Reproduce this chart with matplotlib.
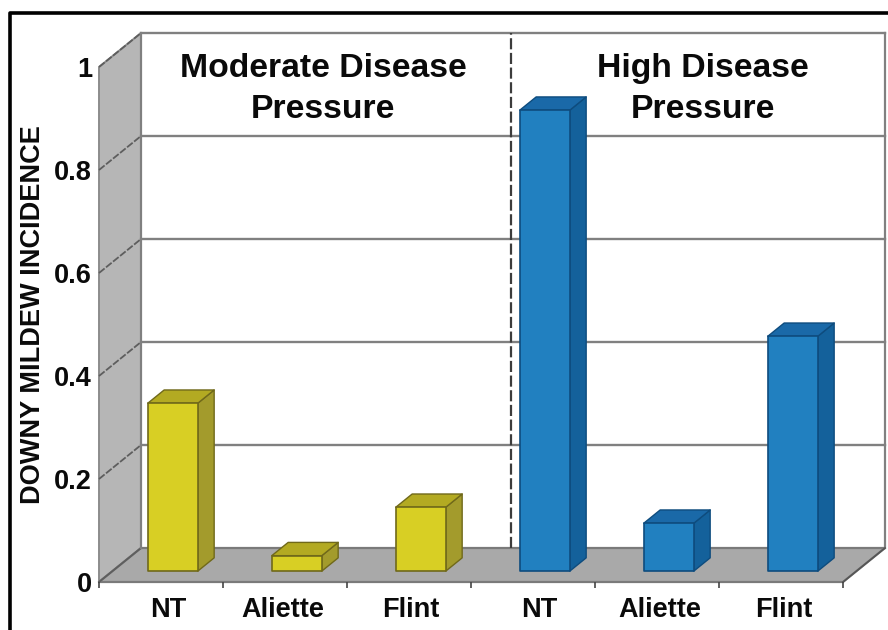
import matplotlib
matplotlib.use("Agg")
import matplotlib.pyplot as plt
from matplotlib.lines import Line2D

plt.rcParams['font.family'] = ['Liberation Sans', 'DejaVu Sans']
plt.rcParams['font.weight'] = 'bold'

categories = ["NT", "Aliette", "Flint", "NT", "Aliette", "Flint"]
values = [0.326, 0.03, 0.124, 0.895, 0.093, 0.456]
groups = ["Moderate Disease\nPressure", "High Disease\nPressure"]
y_ticks = [0, 0.2, 0.4, 0.6, 0.8, 1]
y_labels = ["0", "0.2", "0.4", "0.6", "0.8", "1"]
y_title = "DOWNY MILDEW INCIDENCE"

W, H = 888, 630
L, R, B, T = 99, 843, 582, 67
# oblique projection, in data units per unit of depth
DX = 42 / 124
DY = 34 / 515
BAR_D0, BAR_D1 = 0.32, 0.71
BAR_W = 50 / 124
BAR_OFF = 0.285
LABEL_POS = [0.557, 1.484, 2.516, 3.548, 4.524, 5.524]

YEL = dict(front="#d8cf24", side="#a39b2c", top="#b3aa22", edge="#70691a")
BLU = dict(front="#2180c0", side="#14619b", top="#1a69a8", edge="#0e4c7e")
INK = "#0a0a0a"

fig = plt.figure(figsize=(W / 100, H / 100), dpi=100, facecolor="white")
ax = fig.add_axes([L / W, (H - B) / H, (R - L) / W, (B - T) / H])
ax.patch.set_visible(False)
ax.set_xlim(0, len(categories))
ax.set_ylim(0, 1)
for s in ax.spines.values():
    s.set_visible(False)


def P(x, y, d):
    return (x + d * DX, y + d * DY)


def face(pts, fc, ec, lw=1.0, z=2):
    xs, ys = zip(*pts)
    ax.fill(xs, ys, facecolor=fc, edgecolor=ec, linewidth=lw, clip_on=False,
            zorder=z, joinstyle="round")


n = len(categories)
GRID = "#808080"
# walls and floor
face([P(0, 0, 0), P(0, 0, 1), P(0, 1, 1), P(0, 1, 0)], "#b6b6b6", "#8c8c8c", 1.4, 1)
face([P(0, 0, 0), P(n, 0, 0), P(n, 0, 1), P(0, 0, 1)], "#a9a9a9", "#7a7a7a", 1.6, 1)

# grid on walls
for v in y_ticks:
    a, b, c = P(0, v, 0), P(0, v, 1), P(n, v, 1)
    ax.plot([a[0], b[0]], [a[1], b[1]], color="#5e5e5e", lw=1.3, clip_on=False, zorder=1.5,
            ls=(0, (4, 1)) if v > 0 else "-")
    if v > 0:
        ax.plot([b[0], c[0]], [b[1], c[1]], color=GRID, lw=1.7, clip_on=False, zorder=1.5)
# back wall verticals
for xv in (0, n):
    a, b = P(xv, 0, 1), P(xv, 1, 1)
    ax.plot([a[0], b[0]], [a[1], b[1]], color=GRID, lw=1.6, clip_on=False, zorder=1.5)
a, b = P(n, 0, 0), P(n, 0, 1)
ax.plot([a[0], b[0]], [a[1], b[1]], color="#555555", lw=1.2, clip_on=False, zorder=1.5)

# divider between the two panels
a, b = P(2.985, 0, 1), P(2.985, 1, 1)
ax.plot([a[0], b[0]], [a[1], b[1]], color="#3c3c3c", lw=1.6, ls=(0, (5, 1.6)),
        clip_on=False, zorder=1.7)

# bars
for i, v in enumerate(values):
    c = YEL if i < 3 else BLU
    x0 = i + BAR_OFF
    x1 = x0 + BAR_W
    d0, d1 = BAR_D0, BAR_D1
    face([P(x1, 0, d0), P(x1, 0, d1), P(x1, v, d1), P(x1, v, d0)], c["side"], c["edge"], 1.0, 3)
    face([P(x0, v, d0), P(x1, v, d0), P(x1, v, d1), P(x0, v, d1)], c["top"], c["edge"], 1.0, 3)
    face([P(x0, 0, d0), P(x1, 0, d0), P(x1, v, d0), P(x0, v, d0)], c["front"], c["edge"], 1.2, 4)

# axes ticks and labels
ax.set_xticks(range(n + 1))
ax.set_xticklabels([])
ax.tick_params(axis="x", which="major", length=4, width=1.2, color="#444444", pad=0)
ax.set_xticks(LABEL_POS, minor=True)
ax.set_xticklabels(categories, minor=True, fontsize=19.5, fontweight="bold", color=INK)
ax.tick_params(axis="x", which="minor", length=0, pad=11)
ax.set_yticks(y_ticks)
ax.set_yticklabels(y_labels, fontsize=19.5, fontweight="bold", color=INK)
ax.tick_params(axis="y", length=0, pad=5)
ax.set_ylabel(y_title, fontsize=19.5, fontweight="bold", color=INK)
ax.yaxis.set_label_coords((46 - L) / (R - L), (B - 315) / (B - T))

# panel headings
ax.text(1.806, 0.958, groups[0], ha="center", va="center", fontsize=24.3, fontweight="bold",
        color=INK, linespacing=1.42, zorder=6, clip_on=False)
ax.text(4.87, 0.958, groups[1], ha="center", va="center", fontsize=24.3, fontweight="bold",
        color=INK, linespacing=1.42, zorder=6, clip_on=False)

# outer frame: left and top edges only
fig.add_artist(Line2D([9.5 / W, 9.5 / W, 1], [0, 1 - 12.5 / H, 1 - 12.5 / H],
                      color="black", lw=2.6, transform=fig.transFigure))

fig.savefig("out.png", dpi=100)
